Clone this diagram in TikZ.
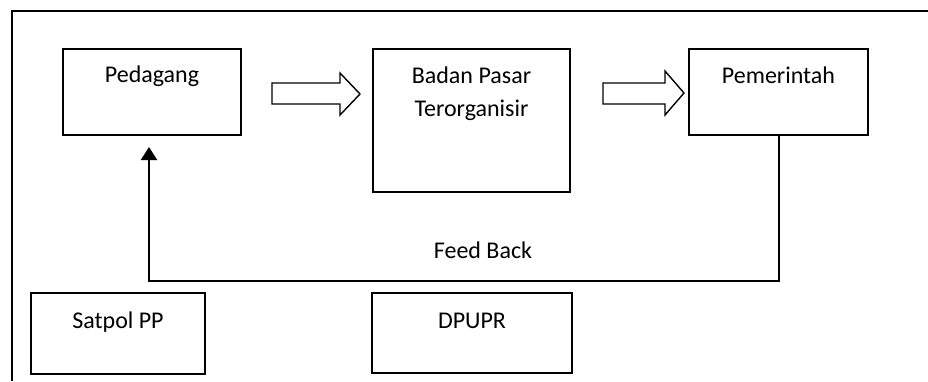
\documentclass[tikz,border=0pt]{standalone}
\usepackage{fontspec}
\setmainfont{Carlito}
\usetikzlibrary{positioning,arrows.meta}

\tikzset{
    box/.style={draw, line width=0.8pt, inner sep=0pt},
    boxtext/.style={font=\fontsize{12}{16.5}\selectfont, align=center, anchor=base, inner sep=0pt},
    blockarrow/.style={draw, line width=0.7pt, line join=miter}
}

\begin{document}
\begin{tikzpicture}[x=0.5pt, y=-0.5pt]
    % Fix the page size
    \useasboundingbox (0,0) rectangle (928,381);

    % The outer frame, open at the right and the bottom
    \draw[line width=1pt] (12,381) -- (12,11) -- (928,11);

    % Top row of boxes
    \node (ped) [box, minimum width=89pt, minimum height=43pt] at (152,92) {};
    \node (badan) [box, minimum width=98.5pt, minimum height=71.5pt] at (471.5,120.5) {};
    \node (pem) [box, minimum width=89.5pt, minimum height=43pt] at (778.5,92) {};

    % Bottom row of boxes
    \node (satpol) [box, minimum width=87pt, minimum height=40.5pt] at (118,333.5) {};
    \node (dpupr) [box, minimum width=100pt, minimum height=40pt] at (472,333) {};

    % Texts inside the boxes
    \node (pedtext) [boxtext] at (152,82) {Pedagang};
    \node (badantext) [boxtext] at (471.5,116) {Badan Pasar\\Terorganisir};
    \node (pemtext) [boxtext] at (778.5,83) {Pemerintah};
    \node (satpoltext) [boxtext] at (118,328) {Satpol PP};
    \node (dpuprtext) [boxtext] at (472,328) {DPUPR};

    % Hollow block arrows between the top boxes
    \draw[blockarrow] (272,83) -- (340,83) -- (340,73) -- (360,94)
        -- (340,115) -- (340,104) -- (272,104) -- cycle;
    \draw[blockarrow] (603,83) -- (665,83) -- (665,71) -- (684,93)
        -- (665,115) -- (665,104) -- (603,104) -- cycle;

    % Feed back line from Pemerintah to Pedagang
    \coordinate (fbline) at (0,281);
    \coordinate (fbtip) at (149,147);
    \draw[line width=1pt, -{Triangle[width=8pt,length=6.5pt]}]
        (pem.south) -- (pem.south |- fbline) -| (fbtip);
    \node (fb) [boxtext] at (483,258) {Feed Back};
\end{tikzpicture}
\end{document}
